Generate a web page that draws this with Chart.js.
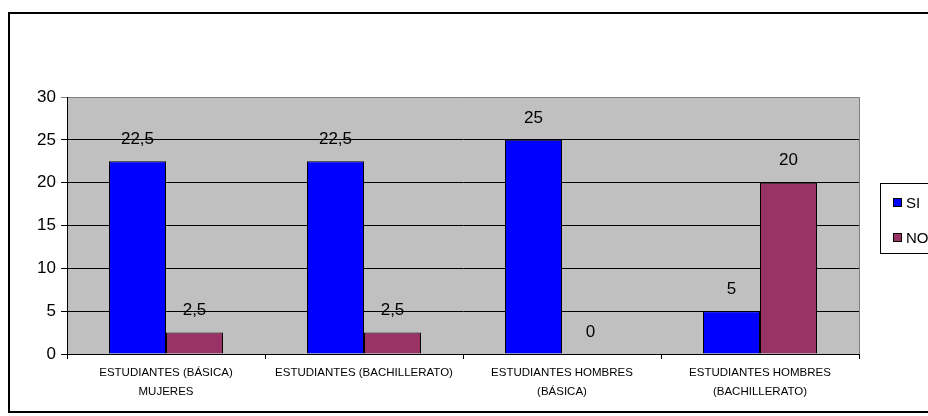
<!DOCTYPE html>
<html>
<head>
<meta charset="utf-8">
<script src="https://cdn.jsdelivr.net/npm/chart.js@4"></script>
<style>
  html, body { margin: 0; padding: 0; background: #fff; }
  canvas { display: block; }
</style>
</head>
<body>
<canvas id="chart" width="928" height="416"></canvas>
<script>
const categories = [
  ["ESTUDIANTES (BÁSICA)", "MUJERES"],
  ["ESTUDIANTES (BACHILLERATO)"],
  ["ESTUDIANTES HOMBRES", "(BÁSICA)"],
  ["ESTUDIANTES HOMBRES", "(BACHILLERATO)"]
];
const siValues = [22.5, 22.5, 25, 5];
const noValues = [2.5, 2.5, 0, 20];
const seriesNames = ["SI", "NO"];
const seriesColors = ["#0000FF", "#993366"];

const FONT = "'Liberation Sans', Arial, sans-serif";
const fmt = v => String(v).replace(".", ",");

// frame, plot border and the boxed legend on the right
const decor = {
  id: "decor",
  beforeDraw(chart) {
    const { ctx, chartArea: a } = chart;
    ctx.save();
    ctx.fillStyle = "#C0C0C0";
    ctx.fillRect(a.left, a.top, a.right - a.left, a.bottom - a.top);
    ctx.restore();
  },
  afterDraw(chart) {
    const { ctx, chartArea: a } = chart;
    ctx.save();
    // outer frame
    ctx.strokeStyle = "#000";
    ctx.lineWidth = 2;
    ctx.strokeRect(9, 13, 940, 399);
    // right border of plot
    ctx.strokeStyle = "#808080";
    ctx.lineWidth = 1;
    ctx.beginPath();
    ctx.moveTo(a.right + 0.5, a.top);
    ctx.lineTo(a.right + 0.5, a.bottom);
    ctx.stroke();
    // legend
    ctx.strokeStyle = "#000";
    ctx.strokeRect(880.5, 183.5, 60, 70);
    ctx.font = "15px " + FONT;
    ctx.textBaseline = "middle";
    ctx.textAlign = "left";
    seriesNames.forEach((name, i) => {
      const y = 203 + i * 35;
      ctx.fillStyle = seriesColors[i];
      ctx.fillRect(893, y - 5, 9, 9);
      ctx.strokeRect(893.5, y - 4.5, 8, 8);
      ctx.fillStyle = "#000";
      ctx.fillText(name, 906, y + 1);
    });
    ctx.restore();
  }
};

// value labels above each bar
const valueLabels = {
  id: "valueLabels",
  afterDatasetsDraw(chart) {
    const { ctx } = chart;
    ctx.save();
    ctx.font = "17px " + FONT;
    ctx.fillStyle = "#000";
    ctx.textAlign = "center";
    ctx.textBaseline = "middle";
    chart.data.datasets.forEach((ds, di) => {
      chart.getDatasetMeta(di).data.forEach((el, i) => {
        ctx.fillText(fmt(ds.data[i]), el.x, el.y - 22);
      });
    });
    ctx.restore();
  }
};

new Chart(document.getElementById("chart"), {
  type: "bar",
  data: {
    labels: categories,
    datasets: [
      { label: seriesNames[0], data: siValues, backgroundColor: seriesColors[0], borderColor: "#000", borderWidth: 1 },
      { label: seriesNames[1], data: noValues, backgroundColor: seriesColors[1], borderColor: "#000", borderWidth: 1 }
    ]
  },
  options: {
    responsive: false,
    animation: false,
    layout: { padding: { top: 97, right: 69, left: 0, bottom: 0 } },
    datasets: { bar: { categoryPercentage: 0.576, barPercentage: 1 } },
    plugins: { legend: { display: false }, tooltip: { enabled: false } },
    scales: {
      x: {
        afterFit: s => { s.height = 62; },
        border: { color: "#000", width: 1 },
        grid: { offset: true, drawOnChartArea: false, tickLength: 5, color: "#000" },
        ticks: { color: "#000", font: { family: FONT, size: 11.5, lineHeight: 1.65 }, padding: 4, maxRotation: 0, autoSkip: false }
      },
      y: {
        min: 0, max: 30,
        afterFit: s => { s.width = 67; },
        border: { color: "#000", width: 1 },
        grid: {
          color: ctx => ctx.tick && ctx.tick.value === 30 ? "#808080" : "#000",
          tickLength: 6
        },
        ticks: { stepSize: 5, color: "#000", font: { family: FONT, size: 17 }, padding: 5 }
      }
    }
  },
  plugins: [decor, valueLabels]
});
</script>
</body>
</html>
